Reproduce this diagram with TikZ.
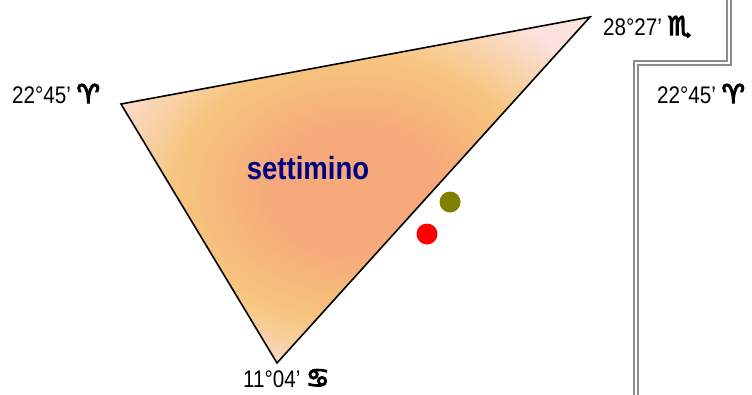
\documentclass[tikz,border=0pt]{standalone}
\usepackage{fontspec}
\setmainfont{Liberation Sans}[FakeStretch=0.86]
\newfontfamily\signfont{DejaVu Sans}[FakeBold=5]
\usepackage{tikz}
\usetikzlibrary{positioning}

\definecolor{salmon}{HTML}{F6A97A}
\definecolor{peach}{HTML}{F6C57E}
\definecolor{blush}{HTML}{FBE2DE}
\definecolor{navyblue}{HTML}{000080}
\definecolor{olivedot}{HTML}{808000}

\pgfdeclareradialshading{peachglow}{\pgfpoint{0bp}{0bp}}{%
  color(0bp)=(salmon); color(9bp)=(salmon); color(19bp)=(peach);
  color(30bp)=(blush); color(80bp)=(blush)}

\newcommand{\sign}[1]{{\signfont\fontsize{26}{26}\selectfont #1}}

\begin{document}
\begin{tikzpicture}[
  x=1pt, y=-1pt,
  every node/.style={inner sep=0pt,font=\fontsize{24}{24}\selectfont},
  dot/.style={circle,minimum size=21pt},
  frame/.style={draw=gray!90,double=white,line width=2pt,double distance=1.8pt}
]
  \useasboundingbox (0,0) rectangle (752,394);

  % vertices
  \coordinate (ari) at (121,104);
  \coordinate (sco) at (590,17);
  \coordinate (can) at (277,363);

  \shade[shading=peachglow] (ari) -- (sco) -- (can) -- cycle;
  \draw[line width=1.6pt] (ari) -- (sco) -- (can) -- cycle;

  \node[font=\bfseries\fontsize{32}{32}\selectfont,text=navyblue] (name) at (308,168) {settimino};

  \node[dot,fill=olivedot] (p1) at (450,202) {};
  \node[dot,fill=red] (p2) at (427,234) {};

  % labels
  \node[anchor=base west] (lari) at (12,103) {22°45’ \sign{♈}};
  \node[anchor=base west] (lsco) at (603,35) {28°27’ \sign{♏}};
  \node[anchor=base west] (lcan) at (243,387) {11°04’ \sign{♋}};
  \node[anchor=base west] (lari2) at (657,103) {22°45’ \sign{♈}};

  % frame
  \coordinate (f1) at (729,-5);
  \coordinate (f2) at (729,63);
  \coordinate (f3) at (636,63);
  \coordinate (f4) at (636,400);
  \draw[frame] (f1) -- (f2) -- (f3) -- (f4);
\end{tikzpicture}
\end{document}
